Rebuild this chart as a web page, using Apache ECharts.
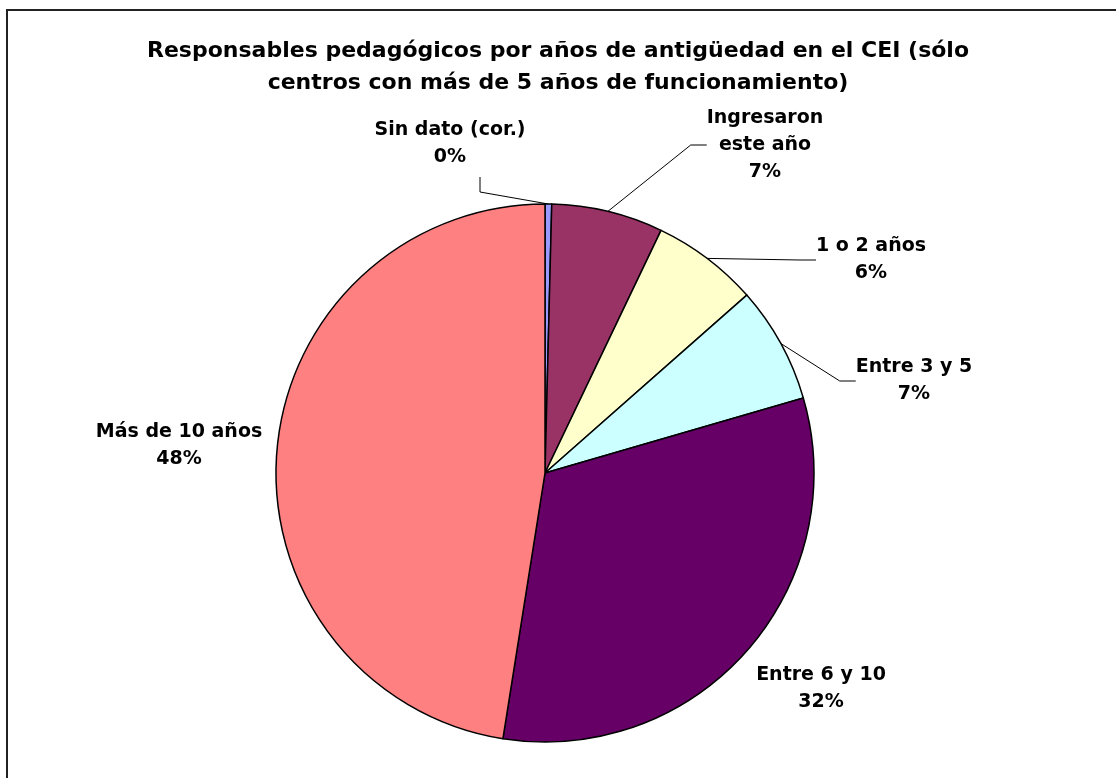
<!DOCTYPE html>
<html>
<head>
<meta charset="utf-8">
<script src="https://cdn.jsdelivr.net/npm/echarts@6/dist/echarts.min.js"></script>
<style>
  html, body { margin: 0; padding: 0; background: #fff; }
  #chart { width: 1116px; height: 778px; }
</style>
</head>
<body>
<div id="chart"></div>
<script>
// Antigüedad de los responsables pedagógicos (porcentaje del total)
const categories = [
  'Sin dato (cor.)',
  'Ingresaron\neste año',
  '1 o 2 años',
  'Entre 3 y 5',
  'Entre 6 y 10',
  'Más de 10 años'
];
const shares = [0.4, 6.7, 6.4, 7.0, 32.0, 47.5];
const sliceColors = ['#9999FF', '#993366', '#FFFFCC', '#CCFFFF', '#660066', '#FF8080'];
const titleText = 'Responsables pedagógicos por años de antigüedad en el CEI (sólo\ncentros con más de 5 años de funcionamiento)';

// where each slice's text block sits (block centre, px)
const labelSpots = [
  [450, 144],
  [765, 145],
  [871, 260],
  [914, 381],
  [821, 689],
  [179, 446]
];
// slices whose text is far enough to need a leader line
const withLeader = [true, true, true, true, false, false];

const FONT = '"DejaVu Sans", "Liberation Sans", Arial, sans-serif';

const chart = echarts.init(document.getElementById('chart'), null, { renderer: 'canvas' });

chart.setOption({
  backgroundColor: '#ffffff',
  animation: false,
  title: {
    text: titleText,
    left: 'center',
    top: 30,
    textStyle: {
      fontFamily: FONT,
      fontSize: 22,
      fontWeight: 'bold',
      color: '#000',
      lineHeight: 32
    }
  },
  graphic: [{
    type: 'rect',
    shape: { x: 7, y: 10, width: 1300, height: 1000 },
    style: { fill: 'none', stroke: '#222', lineWidth: 2 },
    silent: true,
    z: -1
  }],
  series: [{
    type: 'pie',
    center: [545, 473],
    radius: 269,
    startAngle: 90,
    clockwise: true,
    percentPrecision: 0,
    avoidLabelOverlap: false,
    itemStyle: { borderColor: '#000', borderWidth: 1.5 },
    emphasis: { disabled: true },
    label: {
      show: true,
      position: 'outside',
      formatter: '{b}\n{d}%',
      fontFamily: FONT,
      fontSize: 19,
      fontWeight: 'bold',
      color: '#000',
      lineHeight: 27
    },
    labelLine: {
      show: true,
      length: 16,
      length2: 16,
      lineStyle: { color: '#000', width: 1 }
    },
    labelLayout: function (p) {
      const spot = labelSpots[p.dataIndex];
      const layout = { x: spot[0], y: spot[1], align: 'center', verticalAlign: 'middle' };
      // the "Sin dato" leader drops from under its text before bending to the slice
      if (p.dataIndex === 0 && p.labelLinePoints && p.labelLinePoints[0]) {
        const a = p.labelLinePoints[0];
        layout.labelLinePoints = [
          [a[0], a[1]],
          [spot[0] + 30, spot[1] + 48],
          [spot[0] + 30, spot[1] + 33]
        ];
      }
      return layout;
    },
    data: categories.map(function (name, i) {
      return {
        name: name,
        value: shares[i],
        itemStyle: { color: sliceColors[i] },
        labelLine: { show: withLeader[i] }
      };
    })
  }]
});
</script>
</body>
</html>
